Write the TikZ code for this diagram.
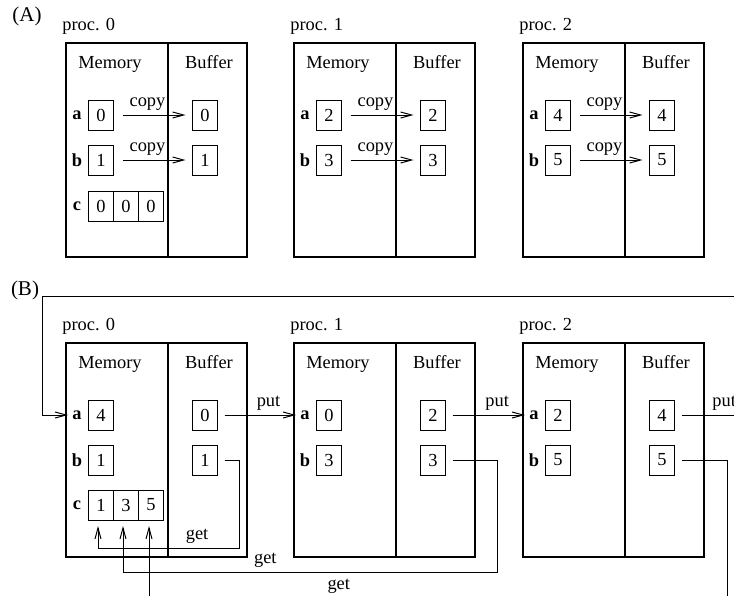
\documentclass[tikz,border=0pt]{standalone}
\usepackage{fontspec}
\setmainfont{Liberation Serif}
\usetikzlibrary{arrows.meta,positioning}

\tikzset{
  cell/.style={draw, line width=0.5pt, minimum width=12.5pt, minimum height=15pt, inner sep=0pt, outer sep=0pt},
  var/.style={inner sep=2pt, execute at begin node=\bfseries},
  tag/.style={inner sep=1pt},
  frame/.style={line width=0.9pt},
  link/.style={line width=0.5pt, -{Straight Barb[length=5.5pt,width=3pt]}, shorten <=3.5pt}
}

\begin{document}
\begin{tikzpicture}[x=0.5pt, y=-0.5pt, font=\fontsize{9.2}{11}\selectfont]
  \useasboundingbox (0,0) rectangle (734,595);
  \clip (0,0) rectangle (734,595);

  % (A) every proc copies a and b into its own buffer
  \node[tag, font=\fontsize{10.5}{12}\selectfont] (capA) at (27,16) {(A)};
  \foreach \p/\x/\va/\vb in {0/66/0/1,1/294/2/3,2/523/4/5} {
    \draw[frame] (\x,43) rectangle (\x+181,257);
    \draw[frame] (\x+102,43) -- (\x+102,257);
    \node[tag, anchor=base west] (prA\p) at (\x-6,30) {proc. \p};
    \node[tag, anchor=base] (memA\p) at (\x+44,68) {Memory};
    \node[tag, anchor=base] (bufA\p) at (\x+143,68) {Buffer};
    \node[var] (laA\p) at (\x+11,115) {a};
    \node[var] (lbA\p) at (\x+11,160) {b};
    \node[cell] (maA\p) at (\x+35,115) {\va};
    \node[cell] (mbA\p) at (\x+35,160) {\vb};
    \node[cell] (baA\p) at (\x+139,115) {\va};
    \node[cell] (bbA\p) at (\x+139,160) {\vb};
    \draw[link, shorten <=4.5pt, shorten >=3.5pt] (maA\p) -- node[tag, above=1pt, pos=0.43] {copy} (baA\p);
    \draw[link, shorten <=4.5pt, shorten >=3.5pt] (mbA\p) -- node[tag, above=1pt, pos=0.43] {copy} (bbA\p);
  }
  \node[var] (lcA) at (77,206) {c};
  \node[cell] (cA0) at (101,206) {0};
  \node[cell, right=0pt of cA0] (cA1) {0};
  \node[cell, right=0pt of cA1] (cA2) {0};

  % (B) put into the next proc, get back into c
  \node[tag, font=\fontsize{10.5}{12}\selectfont] (capB) at (25,290) {(B)};
  \foreach \p/\x/\va/\vb/\vc in {0/66/4/1/0,1/294/0/3/2,2/523/2/5/4} {
    \draw[frame] (\x,343) rectangle (\x+181,557);
    \draw[frame] (\x+102,343) -- (\x+102,557);
    \node[tag, anchor=base west] (prB\p) at (\x-6,330) {proc. \p};
    \node[tag, anchor=base] (memB\p) at (\x+44,368) {Memory};
    \node[tag, anchor=base] (bufB\p) at (\x+143,368) {Buffer};
    \node[var] (laB\p) at (\x+11,415) {a};
    \node[var] (lbB\p) at (\x+11,460) {b};
    \node[cell] (maB\p) at (\x+35,415) {\va};
    \node[cell] (mbB\p) at (\x+35,460) {\vb};
    \node[cell] (baB\p) at (\x+139,415) {\vc};
    \node[cell] (bbB\p) at (\x+139,460) {\vb};
  }
  \node[var] (lcB) at (77,505) {c};
  \node[cell] (cB0) at (101,505) {1};
  \node[cell, right=0pt of cB0] (cB1) {3};
  \node[cell, right=0pt of cB1] (cB2) {5};

  \coordinate (wrap) at (42,296);
  \draw[link] (baB0) -- node[tag, above=1pt, pos=0.65] {put} (laB1);
  \draw[link] (baB1) -- node[tag, above=1pt, pos=0.65] {put} (laB2);
  \draw[link] (baB2.east) -- node[tag, above=1pt, pos=0.71] {put} ++(70,0) |- (wrap) |- (laB0.west);

  \draw[link, shorten >=3pt] (bbB0.east) -- ++(22,0) -- ++(0,88)
    -| node[tag, above=1pt, pos=0.15] {get} ([xshift=-1.5pt]cB0.south);
  \draw[link, shorten >=3pt] (bbB1.east) -- ++(52,0) -- ++(0,112)
    -| node[tag, above=1pt, pos=0.31] {get} ([xshift=-1.5pt]cB1.south);
  \draw[link, shorten >=3pt] (bbB2.east) -- ++(53,0) -- ++(0,138)
    -| node[tag, above=1pt, pos=0.336] {get} ([xshift=-1pt]cB2.south);
\end{tikzpicture}
\end{document}
